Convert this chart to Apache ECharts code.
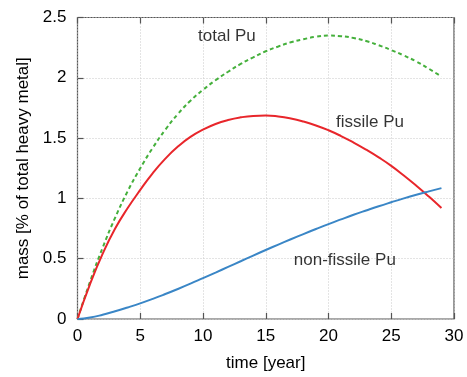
<!DOCTYPE html>
<html>
<head>
<meta charset="utf-8">
<script src="https://cdn.jsdelivr.net/npm/echarts@6/dist/echarts.min.js"></script>
<style>
html, body { margin: 0; padding: 0; background: #fff; }
#chart { width: 467px; height: 377px; }
</style>
</head>
<body>
<div id="chart"></div>
<script>
// time in years
var years = [0, 1, 2, 3, 4, 5, 6, 7, 8, 9, 10, 11, 12, 13, 14, 15, 16, 17, 18, 19, 20, 21, 22, 23, 24, 25, 26, 27, 28, 29];

// mass, % of total heavy metal
var totalPu = [0, 0.31, 0.59, 0.84, 1.06, 1.25, 1.42, 1.57, 1.70, 1.81, 1.90, 1.98, 2.05, 2.115, 2.17, 2.22, 2.26, 2.295, 2.32, 2.34, 2.35, 2.345, 2.33, 2.305, 2.27, 2.23, 2.185, 2.135, 2.075, 2.01];
var fissilePu = [0, 0.29, 0.54, 0.75, 0.92, 1.07, 1.21, 1.33, 1.43, 1.51, 1.57, 1.617, 1.65, 1.672, 1.684, 1.687, 1.679, 1.662, 1.637, 1.605, 1.565, 1.517, 1.463, 1.404, 1.34, 1.27, 1.19, 1.105, 1.015, 0.92];
var nonFissilePu = [0, 0.012, 0.035, 0.064, 0.096, 0.13, 0.167, 0.207, 0.249, 0.293, 0.339, 0.385, 0.432, 0.479, 0.526, 0.572, 0.617, 0.661, 0.704, 0.746, 0.787, 0.826, 0.864, 0.90, 0.935, 0.968, 1.0, 1.03, 1.058, 1.085];

// curve labels, placed in data units
var labelNames = ['total Pu', 'fissile Pu', 'non-fissile Pu'];
var labelPos = [[11.9, 2.34], [23.3, 1.635], [21.3, 0.49]];

function pairs(xs, ys) {
    var out = [];
    for (var i = 0; i < xs.length; i++) out.push([xs[i], ys[i]]);
    return out;
}

var font = 'Liberation Sans, Arial, Helvetica, sans-serif';
var axisColor = '#555';
var textColor = '#000';

var myChart = echarts.init(document.getElementById('chart'), null, { renderer: 'canvas' });

myChart.setOption({
    animation: false,
    grid: {
        left: 77.5, right: 13, top: 17.5, bottom: 55,
        show: true, borderColor: axisColor, borderWidth: 1.2,
        containLabel: false
    },
    xAxis: [{
        type: 'value', min: 0, max: 30, interval: 5,
        name: 'time [year]', nameLocation: 'middle', nameGap: 36,
        nameTextStyle: { fontFamily: font, fontSize: 17, color: textColor },
        axisLine: { show: false },
        axisTick: { show: true, inside: true, length: 6, lineStyle: { color: axisColor, width: 1.2 } },
        axisLabel: { fontFamily: font, fontSize: 17, color: textColor, margin: 9 },
        splitLine: { show: true, lineStyle: { color: '#c8c8c8', type: [1, 2], width: 1 } }
    }, {
        type: 'value', min: 0, max: 30, interval: 5, position: 'top',
        axisLine: { show: false },
        axisTick: { show: true, inside: true, length: 6, lineStyle: { color: axisColor, width: 1.2 } },
        axisLabel: { show: false },
        splitLine: { show: false }
    }],
    yAxis: {
        type: 'value', min: 0, max: 2.5, interval: 0.5,
        name: 'mass [% of total heavy metal]', nameLocation: 'middle', nameGap: 46,
        nameTextStyle: { fontFamily: font, fontSize: 17, color: textColor },
        axisLine: { show: false },
        axisTick: { show: true, inside: true, length: 6, lineStyle: { color: axisColor, width: 1.2 } },
        axisLabel: { fontFamily: font, fontSize: 17, color: textColor, margin: 11 },
        splitLine: { show: true, lineStyle: { color: '#c8c8c8', type: [1, 2], width: 1 } }
    },
    series: [
        {
            name: 'total Pu', type: 'line', smooth: 0.5, showSymbol: false,
            data: pairs(years, totalPu),
            lineStyle: { color: '#45b03c', width: 2, type: [4, 3] }
        },
        {
            name: 'fissile Pu', type: 'line', smooth: 0.5, showSymbol: false,
            data: pairs(years, fissilePu),
            lineStyle: { color: '#e8262b', width: 2 }
        },
        {
            name: 'non-fissile Pu', type: 'line', smooth: 0.5, showSymbol: false,
            data: pairs(years, nonFissilePu),
            lineStyle: { color: '#3a86c6', width: 2 }
        },
        {
            name: 'labels', type: 'scatter', symbolSize: 0, silent: true,
            data: labelNames.map(function (n, i) { return { name: n, value: labelPos[i] }; }),
            label: {
                show: true, position: 'inside', formatter: '{b}',
                fontFamily: font, fontSize: 17, color: textColor
            }
        }
    ]
});
</script>
</body>
</html>
